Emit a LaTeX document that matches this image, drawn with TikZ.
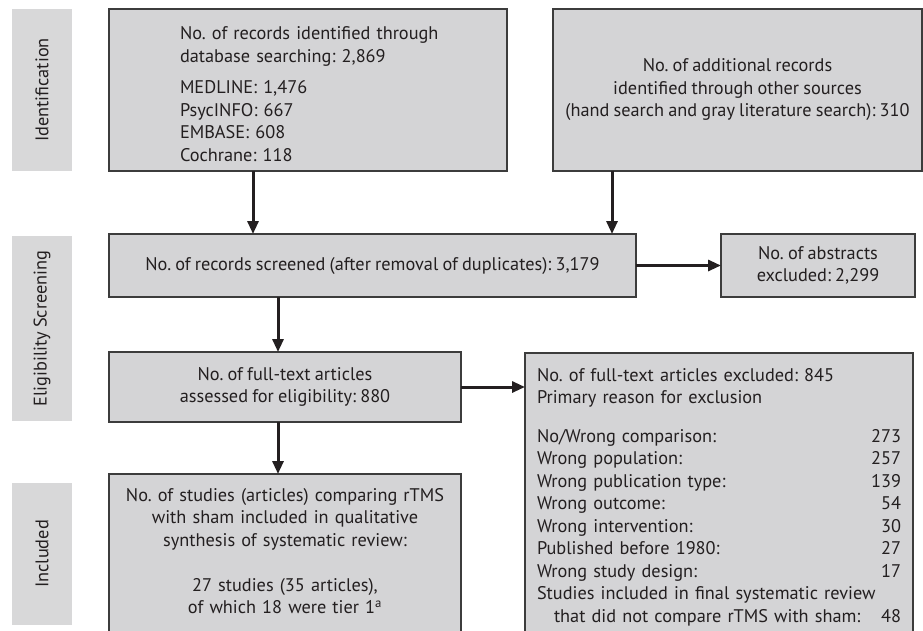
\documentclass[tikz,border=0pt]{standalone}
\usepackage{fontspec}
\setmainfont{PT Sans}[WordSpace=0.85]
\frenchspacing
\usetikzlibrary{arrows.meta,calc}
\definecolor{boxfill}{RGB}{212,212,214}
\definecolor{labfill}{RGB}{216,216,217}
\definecolor{ink}{RGB}{35,31,32}
\definecolor{edge}{RGB}{60,60,60}
\begin{document}
\begin{tikzpicture}[x=1pt,y=-1pt,
  every node/.style={inner sep=0pt, outer sep=0pt, text=ink, font=\fontsize{18.3}{22.5}\selectfont\frenchspacing},
  flowbox/.style={draw=edge, line width=1.3pt, fill=boxfill, anchor=north west},
  sidelab/.style={fill=labfill, rotate=90, minimum height=60pt},
  arr/.style={draw=ink, line width=3pt, -{Triangle[length=13pt,width=11pt]}}]
\useasboundingbox (0,0) rectangle (923,631);
\clip (0,0) rectangle (923,631);
% side labels
\node[sidelab, minimum width=162pt] (lab1) at (42,90) {Identification};
\node[sidelab, minimum width=185pt] (lab2) at (42,328.5) {Eligibility Screening};
\node[sidelab, minimum width=142pt] (lab3) at (42,554) {Included};
% boxes
\node[flowbox, minimum width=398pt, minimum height=162pt] (db) at (109,9) {};
\node[anchor=base west, text width=320pt, align=left] (dbtxt) at (180,40)
  {No. of records identified through\\ database searching: 2,869\\[9pt]
   MEDLINE: 1,476\\ PsycINFO: 667\\ EMBASE: 608\\ Cochrane: 118};
\node[flowbox, minimum width=369pt, minimum height=162pt, align=center] (oth) at (553,9)
  {No. of additional records\\ identified through other sources\\ (hand search and gray literature search): 310};
\node[flowbox, minimum width=527pt, minimum height=63pt] (scr) at (109,234)
  {No. of records screened (after removal of duplicates): 3,179};
\node[flowbox, minimum width=194pt, minimum height=63pt, align=center] (abs) at (721,234)
  {No. of abstracts\\ excluded: 2,299};
\node[flowbox, minimum width=352pt, minimum height=70pt, align=center] (full) at (109,352)
  {No. of full-text articles\\ assessed for eligibility: 880};
\node[flowbox, minimum width=388pt, minimum height=320pt] (excl) at (525,353) {};
\node[anchor=base west, text width=364pt, align=left] (excltxt) at (537,381)
  {No. of full-text articles excluded: 845\\
   Primary reason for exclusion\\[16pt]
   No/Wrong comparison:\hfill 273\\
   Wrong population:\hfill 257\\
   Wrong publication type:\hfill 139\\
   Wrong outcome:\hfill 54\\
   Wrong intervention:\hfill 30\\
   Published before 1980:\hfill 27\\
   Wrong study design:\hfill 17\\
   Studies included in final systematic review\\
   \hspace*{17pt}that did not compare rTMS with sham:\hfill 48};
\node[flowbox, minimum width=352pt, minimum height=320pt] (stud) at (109,474) {};
\node[anchor=base, text width=340pt, align=center] (studtxt) at (285,501)
  {No. of studies (articles) comparing rTMS\\ with sham included in qualitative\\
   synthesis of systematic review:\\[22.5pt]
   27 studies (35 articles),\\ of which 18 were tier 1\textsuperscript{a}};
% connectors
\coordinate (xa) at (253,0);
\coordinate (xb) at (612,0);
\coordinate (xc) at (278,0);
\draw[arr] (db.south -| xa) -- (scr.north -| xa);
\draw[arr] (oth.south -| xb) -- (scr.north -| xb);
\draw[arr] (scr.east) -- (abs.west);
\draw[arr] (scr.south -| xc) -- (full.north -| xc);
\draw[arr] (full.east) -- (excl.west |- full.east);
\draw[arr] (full.south -| xc) -- (stud.north -| xc);
\end{tikzpicture}
\end{document}
